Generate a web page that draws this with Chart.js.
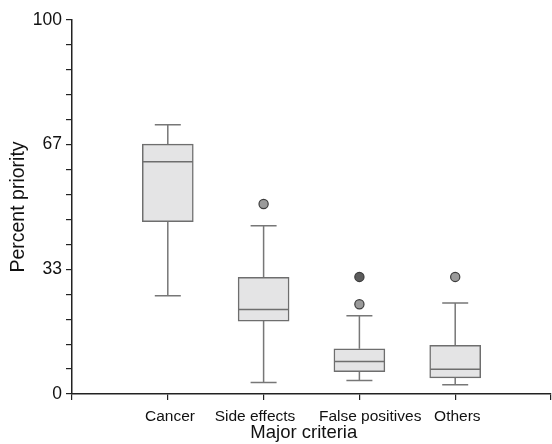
<!DOCTYPE html>
<html>
<head>
<meta charset="utf-8">
<script src="https://cdn.jsdelivr.net/npm/chart.js@4.4.1/dist/chart.umd.min.js"></script>
<style>
html,body{margin:0;padding:0;background:#fff;}
#wrap{width:552px;height:444px;position:relative;}
</style>
</head>
<body>
<div id="wrap"><canvas id="c" width="552" height="444"></canvas></div>
<script>
const categories = ['Cancer', 'Side effects', 'False positives', 'Others'];
const q1 = [46.1, 19.5, 6.0, 4.3];
const q3 = [66.8, 31.2, 12.1, 13.0];
const medians = [62.1, 22.6, 8.7, 6.6];
const whiskerLow = [26.3, 3.1, 3.6, 2.5];
const whiskerHigh = [72.0, 45.0, 20.9, 24.3];
const outlierCat = [2, 3, 3, 4];
const outlierVal = [50.8, 31.3, 24.0, 31.3];
const outlierFill = ['#9a9a9a', '#5c5c5c', '#9a9a9a', '#9a9a9a'];
const yTickValues = [0, 100/15, 200/15, 20, 400/15, 100/3, 600/15, 700/15, 800/15, 60, 200/3, 1100/15, 1200/15, 1300/15, 1400/15, 100];
const yTickLabels = ['0', '', '', '', '', '33', '', '', '', '', '67', '', '', '', '', '100'];
const xTickValues = [0, 1, 2, 3, 4, 5];
const xTickLabels = ['', ' Cancer', 'Side effects    ', '     False positives', ' Others', ''];

const FONT = "'Liberation Sans', Arial, Helvetica, sans-serif";

const whiskerPlugin = {
  id: 'whiskers',
  beforeDatasetsDraw(chart) {
    const ctx = chart.ctx, xs = chart.scales.x, ys = chart.scales.y;
    ctx.save();
    ctx.strokeStyle = '#777777';
    ctx.lineWidth = 1.5;
    categories.forEach((c, i) => {
      const x = xs.getPixelForValue(i + 1);
      const yLo = ys.getPixelForValue(whiskerLow[i]);
      const yHi = ys.getPixelForValue(whiskerHigh[i]);
      const yQ1 = ys.getPixelForValue(q1[i]);
      const yQ3 = ys.getPixelForValue(q3[i]);
      ctx.beginPath();
      ctx.moveTo(x, yQ3); ctx.lineTo(x, yHi);
      ctx.moveTo(x - 13, yHi); ctx.lineTo(x + 13, yHi);
      ctx.moveTo(x, yQ1); ctx.lineTo(x, yLo);
      ctx.moveTo(x - 13, yLo); ctx.lineTo(x + 13, yLo);
      ctx.stroke();
    });
    ctx.restore();
  },
  afterDatasetDraw(chart, args) {
    if (args.index !== 0) return;
    const ctx = chart.ctx, xs = chart.scales.x, ys = chart.scales.y;
    ctx.save();
    ctx.strokeStyle = '#6e6e6e';
    ctx.lineWidth = 1.5;
    categories.forEach((c, i) => {
      const x = xs.getPixelForValue(i + 1);
      const y = ys.getPixelForValue(medians[i]);
      ctx.beginPath();
      ctx.moveTo(x - 25, y); ctx.lineTo(x + 25, y);
      ctx.stroke();
    });
    ctx.restore();
  }
};

new Chart(document.getElementById('c'), {
  data: {
    datasets: [
      {
        type: 'bar',
        data: categories.map((c, i) => ({ x: i + 1, y: [q1[i], q3[i]] })),
        backgroundColor: '#e4e4e5',
        borderColor: '#6e6e6e',
        borderWidth: 1.5,
        borderSkipped: false,
        barThickness: 51,
        order: 2
      },
      {
        type: 'scatter',
        data: outlierCat.map((c, i) => ({ x: c, y: outlierVal[i] })),
        backgroundColor: outlierFill,
        borderColor: '#3c3c3c',
        borderWidth: 1.2,
        pointRadius: 4.6,
        order: 1
      }
    ]
  },
  options: {
    responsive: false,
    animation: false,
    events: [],
    layout: { autoPadding: false, padding: { top: 20, right: 1, left: 0, bottom: 0 } },
    plugins: { legend: { display: false }, tooltip: { enabled: false } },
    scales: {
      x: {
        type: 'linear',
        min: 0, max: 5,
        offset: false,
        afterBuildTicks: s => { s.ticks = xTickValues.map(v => ({ value: v })); },
        afterFit: s => { s.height = 50; s.paddingLeft = 0; s.paddingRight = 0; },
        grid: { display: true, offset: false, drawOnChartArea: false, drawTicks: true, tickLength: 6, color: '#222', lineWidth: 1.2 },
        border: { display: true, color: '#222', width: 1.5 },
        ticks: {
          autoSkip: false, maxRotation: 0, minRotation: 0, padding: 7,
          color: '#111', font: { family: FONT, size: 15.5 },
          callback: (v, idx) => xTickLabels[idx]
        },
        title: {
          display: true, text: 'Major criteria   ', color: '#111',
          font: { family: FONT, size: 18.5 }, padding: { top: 0, bottom: 0 }
        }
      },
      y: {
        type: 'linear',
        min: 0, max: 100,
        afterBuildTicks: s => { s.ticks = yTickValues.map(v => ({ value: v })); },
        afterFit: s => { s.width = 72; },
        grid: { display: true, drawOnChartArea: false, drawTicks: true, tickLength: 6, color: '#222', lineWidth: 1.2 },
        border: { display: true, color: '#222', width: 1.5 },
        ticks: {
          autoSkip: false, padding: 4,
          color: '#111', font: { family: FONT, size: 17.5 },
          callback: (v, idx) => yTickLabels[idx]
        },
        title: {
          display: true, text: 'Percent priority', color: '#111',
          font: { family: FONT, size: 19.5 }, padding: { top: 7, bottom: 0 }
        }
      }
    }
  },
  plugins: [whiskerPlugin]
});
</script>
</body>
</html>
